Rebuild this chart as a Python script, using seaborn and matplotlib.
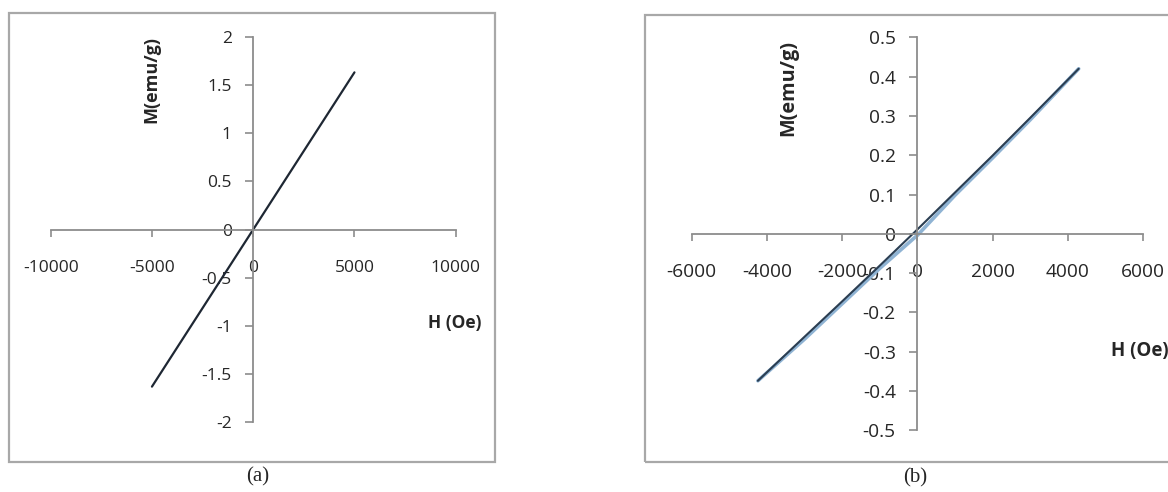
import matplotlib
matplotlib.use("Agg")
import matplotlib.pyplot as plt
import seaborn as sns
from matplotlib.patches import Rectangle

# ---------------- data ----------------
# panel (a): linear M(H)
h_a = [-5000, 0, 5000]
m_a = [-1.63, 0.0, 1.63]
xticks_a = [-10000, -5000, 0, 5000, 10000]
yticks_a = [-2, -1.5, -1, -0.5, 0, 0.5, 1, 1.5, 2]

# panel (b): narrow hysteresis loop, two branches
h_b_down = [4290, 3000, 2000, 1000, 0, -1000, -2000, -3000, -4240]
m_b_down = [0.420, 0.295, 0.199, 0.105, 0.011, -0.081, -0.172, -0.262, -0.374]
h_b_up = [-4240, -3000, -2000, -1000, -100, 0, 1000, 2000, 3000, 4290]
m_b_up = [-0.374, -0.268, -0.178, -0.088, -0.012, -0.004, 0.098, 0.193, 0.290, 0.420]
xticks_b = [-6000, -4000, -2000, 0, 2000, 4000, 6000]
yticks_b = [-0.5, -0.4, -0.3, -0.2, -0.1, 0, 0.1, 0.2, 0.3, 0.4, 0.5]

ylabel = "M(emu/g)"
xlabel = "H (Oe)"

# ---------------- figure ----------------
sns.set_style("white")
plt.rcParams["font.family"] = ["Open Sans", "DejaVu Sans"]

W, H = 1168, 492
fig = plt.figure(figsize=(W / 100, H / 100), dpi=100)


def fx(px):
    return px / W


def fy(py):
    return 1 - py / H


AXIS_C = "#8c8c8c"
FRAME_C = "#a8a8a8"
TEXT_C = "#262626"

# outer frames
fig.add_artist(Rectangle((fx(9), fy(462)), fx(495) - fx(9), fy(13) - fy(462),
                         transform=fig.transFigure, fill=False,
                         edgecolor=FRAME_C, lw=1.6))
fig.add_artist(Rectangle((fx(645), fy(462)), fx(1180) - fx(645), fy(15) - fy(462),
                         transform=fig.transFigure, fill=False,
                         edgecolor=FRAME_C, lw=1.6))


def style_axes(ax, xt, yt, fs, ypad, xpad):
    for s in ["top", "right"]:
        ax.spines[s].set_visible(False)
    for s in ["left", "bottom"]:
        ax.spines[s].set_position(("data", 0))
        ax.spines[s].set_color(AXIS_C)
        ax.spines[s].set_linewidth(1.3)
    ax.set_xticks(xt)
    ax.set_yticks(yt)
    ax.set_xticklabels([f"{v:g}" for v in xt])
    ax.set_yticklabels([f"{v:g}" for v in yt])
    ax.tick_params(axis="x", direction="out", length=5, width=1.2,
                   color=AXIS_C, labelsize=fs, labelcolor=TEXT_C, pad=xpad,
                   bottom=True)
    ax.tick_params(axis="y", direction="out", length=6, width=1.2,
                   color=AXIS_C, labelsize=fs, labelcolor=TEXT_C, pad=ypad,
                   left=True)
    ax.set_xlabel("")
    ax.set_ylabel("")
    ax.patch.set_alpha(0)
    ax.grid(False)


# ---- panel (a)
ax1 = fig.add_axes([fx(50.7), fy(422.3), (455.7 - 50.7) / W, (422.3 - 36.7) / H])
sns.lineplot(x=h_a, y=m_a, ax=ax1, color="#1e2733", lw=1.6, sort=False,
             estimator=None)
ax1.set_xlim(-10000, 10000)
ax1.set_ylim(-2, 2)
style_axes(ax1, xticks_a, yticks_a, 12.5, 9.5, 17)

# ---- panel (b)
ax2 = fig.add_axes([fx(691.7), fy(430.3), (1143 - 691.7) / W, (430.3 - 37.3) / H])
sns.lineplot(x=h_b_up, y=m_b_up, ax=ax2, color="#8fb3d3", lw=2.6, sort=False,
             estimator=None)
sns.lineplot(x=h_b_down, y=m_b_down, ax=ax2, color="#2b3e52", lw=1.5, sort=False,
             estimator=None)
ax2.set_xlim(-6000, 6000)
ax2.set_ylim(-0.5, 0.5)
style_axes(ax2, xticks_b, yticks_b, 13.8, 9.5, 16)

# axis titles
fig.text(fx(151), fy(79), ylabel, rotation=90, ha="center", va="center",
         fontsize=13, fontweight="bold", color=TEXT_C)
fig.text(fx(455), fy(323), xlabel, ha="center", va="center",
         fontsize=12.5, fontweight="bold", color=TEXT_C)
fig.text(fx(788), fy(88), ylabel, rotation=90, ha="center", va="center",
         fontsize=14.3, fontweight="bold", color=TEXT_C)
fig.text(fx(1111), fy(351), xlabel, ha="left", va="center",
         fontsize=13.5, fontweight="bold", color=TEXT_C)

# captions
fig.text(fx(258), fy(477), "(a)", ha="center", va="center", fontsize=15,
         family=["Liberation Serif", "DejaVu Serif"], color=TEXT_C)
fig.text(fx(915), fy(478), "(b)", ha="center", va="center", fontsize=15,
         family=["Liberation Serif", "DejaVu Serif"], color=TEXT_C)

fig.savefig("out.png", dpi=100)
